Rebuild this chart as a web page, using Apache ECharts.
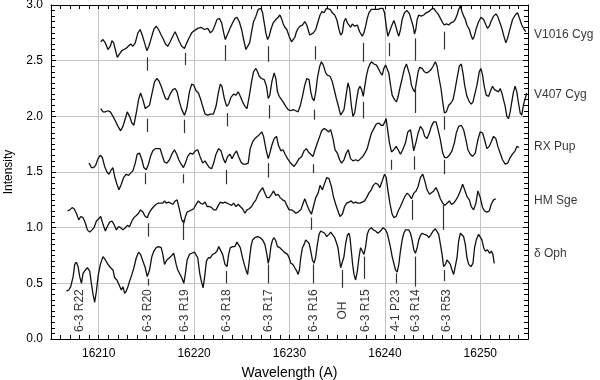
<!DOCTYPE html>
<html>
<head>
<meta charset="utf-8">
<script src="https://cdn.jsdelivr.net/npm/echarts@6/dist/echarts.min.js"></script>
<style>
  html, body { margin: 0; padding: 0; background: #fff; }
  #chart { width: 600px; height: 380px; }
</style>
</head>
<body>
<div id="chart"></div>
<script>
// spectra: [wavelength (A), intensity]
const v1016Cyg = [[16210.21,2.67],[16210.45,2.69],[16210.69,2.66],[16210.97,2.60],[16211.22,2.63],[16211.39,2.68],[16211.57,2.66],[16211.74,2.60],[16211.95,2.53],[16212.19,2.56],[16212.44,2.59],[16212.65,2.60],[16212.86,2.61],[16213.06,2.62],[16213.34,2.65],[16213.59,2.63],[16213.83,2.66],[16214.11,2.75],[16214.35,2.78],[16214.56,2.73],[16214.81,2.66],[16215.05,2.59],[16215.26,2.63],[16215.50,2.70],[16215.78,2.78],[16216.03,2.81],[16216.27,2.78],[16216.55,2.73],[16216.79,2.69],[16217.00,2.65],[16217.25,2.63],[16217.49,2.67],[16217.77,2.72],[16218.01,2.76],[16218.22,2.72],[16218.46,2.67],[16218.71,2.63],[16218.99,2.61],[16219.23,2.66],[16219.51,2.71],[16219.75,2.75],[16220.03,2.77],[16220.38,2.79],[16220.73,2.80],[16221.08,2.78],[16221.43,2.79],[16221.71,2.75],[16221.95,2.77],[16222.19,2.82],[16222.40,2.87],[16222.65,2.88],[16222.89,2.84],[16223.10,2.75],[16223.27,2.69],[16223.52,2.74],[16223.76,2.79],[16224.04,2.84],[16224.28,2.88],[16224.49,2.89],[16224.74,2.85],[16224.98,2.78],[16225.19,2.69],[16225.43,2.60],[16225.61,2.59],[16225.82,2.66],[16226.03,2.76],[16226.23,2.85],[16226.48,2.90],[16226.72,2.96],[16227.00,2.97],[16227.18,2.93],[16227.35,2.84],[16227.52,2.75],[16227.70,2.69],[16227.87,2.72],[16228.05,2.78],[16228.29,2.84],[16228.57,2.87],[16228.81,2.89],[16228.99,2.91],[16229.16,2.88],[16229.34,2.83],[16229.51,2.80],[16229.72,2.78],[16229.96,2.72],[16230.21,2.67],[16230.38,2.66],[16230.56,2.71],[16230.73,2.76],[16230.90,2.79],[16231.11,2.81],[16231.36,2.82],[16231.60,2.85],[16231.81,2.82],[16231.95,2.78],[16232.12,2.73],[16232.30,2.72],[16232.51,2.75],[16232.75,2.78],[16232.99,2.85],[16233.20,2.91],[16233.41,2.94],[16233.62,2.93],[16233.87,2.97],[16234.04,2.98],[16234.25,2.96],[16234.49,2.93],[16234.74,2.91],[16234.95,2.87],[16235.19,2.78],[16235.36,2.73],[16235.54,2.75],[16235.71,2.85],[16235.89,2.88],[16236.06,2.84],[16236.24,2.82],[16236.41,2.80],[16236.58,2.83],[16236.83,2.81],[16237.11,2.82],[16237.35,2.76],[16237.63,2.72],[16237.80,2.75],[16237.98,2.81],[16238.15,2.88],[16238.33,2.93],[16238.57,2.96],[16238.85,2.96],[16239.02,2.97],[16239.27,2.96],[16239.55,2.97],[16239.79,2.97],[16239.96,2.93],[16240.14,2.81],[16240.31,2.72],[16240.49,2.76],[16240.69,2.81],[16240.94,2.86],[16241.11,2.82],[16241.29,2.76],[16241.46,2.72],[16241.64,2.78],[16241.81,2.87],[16242.05,2.93],[16242.33,2.95],[16242.58,2.92],[16242.75,2.87],[16242.96,2.81],[16243.10,2.74],[16243.24,2.78],[16243.38,2.87],[16243.55,2.91],[16243.80,2.90],[16244.07,2.91],[16244.32,2.93],[16244.60,2.94],[16244.84,2.96],[16245.12,2.97],[16245.36,2.94],[16245.57,2.92],[16245.82,2.88],[16246.06,2.84],[16246.24,2.82],[16246.45,2.83],[16246.69,2.82],[16246.93,2.84],[16247.21,2.85],[16247.38,2.87],[16247.56,2.91],[16247.73,2.96],[16247.91,2.99],[16248.08,2.94],[16248.26,2.90],[16248.43,2.87],[16248.60,2.82],[16248.85,2.78],[16249.02,2.73],[16249.20,2.69],[16249.37,2.72],[16249.58,2.79],[16249.82,2.85],[16250.07,2.89],[16250.35,2.87],[16250.59,2.82],[16250.76,2.79],[16250.94,2.81],[16251.11,2.85],[16251.39,2.90],[16251.64,2.92],[16251.81,2.90],[16252.02,2.85],[16252.26,2.79],[16252.44,2.73],[16252.68,2.66],[16252.85,2.70],[16253.13,2.79],[16253.38,2.87],[16253.66,2.91],[16253.90,2.93],[16254.11,2.88],[16254.35,2.82],[16254.60,2.78],[16254.77,2.76]];

const v407Cyg = [[16210.21,2.07],[16210.45,2.04],[16210.69,2.04],[16210.97,2.05],[16211.22,2.04],[16211.50,2.00],[16211.74,1.96],[16212.02,1.91],[16212.30,1.87],[16212.54,1.91],[16212.79,1.98],[16212.99,2.04],[16213.24,2.00],[16213.48,1.94],[16213.69,1.92],[16213.94,2.03],[16214.18,2.15],[16214.39,2.21],[16214.63,2.15],[16214.88,2.07],[16215.08,2.06],[16215.33,2.10],[16215.57,2.20],[16215.85,2.31],[16216.10,2.34],[16216.30,2.32],[16216.55,2.27],[16216.79,2.21],[16217.00,2.16],[16217.24,2.15],[16217.49,2.20],[16217.77,2.24],[16218.01,2.25],[16218.22,2.22],[16218.46,2.13],[16218.71,2.06],[16218.99,2.01],[16219.23,2.07],[16219.51,2.22],[16219.75,2.29],[16219.96,2.28],[16220.21,2.23],[16220.45,2.21],[16220.66,2.16],[16220.90,2.09],[16221.15,2.02],[16221.43,2.01],[16221.70,2.02],[16222.02,2.02],[16222.30,2.09],[16222.54,2.21],[16222.75,2.29],[16222.92,2.27],[16223.17,2.16],[16223.41,2.09],[16223.62,2.11],[16223.86,2.17],[16224.14,2.20],[16224.39,2.19],[16224.63,2.22],[16224.84,2.18],[16225.08,2.13],[16225.33,2.09],[16225.54,2.07],[16225.78,2.18],[16226.02,2.31],[16226.23,2.40],[16226.48,2.43],[16226.65,2.40],[16226.83,2.36],[16227.07,2.34],[16227.35,2.33],[16227.59,2.27],[16227.77,2.16],[16227.94,2.19],[16228.15,2.31],[16228.39,2.39],[16228.57,2.34],[16228.74,2.22],[16228.92,2.18],[16229.09,2.16],[16229.33,2.13],[16229.61,2.09],[16229.86,2.06],[16230.14,2.05],[16230.38,2.06],[16230.66,2.05],[16230.90,2.04],[16231.11,2.09],[16231.36,2.18],[16231.60,2.28],[16231.81,2.34],[16232.05,2.33],[16232.23,2.22],[16232.40,2.16],[16232.58,2.14],[16232.75,2.22],[16232.92,2.34],[16233.17,2.45],[16233.34,2.49],[16233.55,2.46],[16233.79,2.39],[16233.97,2.37],[16234.25,2.36],[16234.49,2.31],[16234.66,2.25],[16234.91,2.16],[16235.19,2.07],[16235.36,2.01],[16235.54,2.00],[16235.71,2.06],[16235.95,2.20],[16236.13,2.30],[16236.30,2.25],[16236.48,2.10],[16236.65,2.00],[16236.83,2.03],[16237.00,2.13],[16237.21,2.24],[16237.38,2.27],[16237.56,2.24],[16237.73,2.18],[16237.91,2.28],[16238.08,2.37],[16238.25,2.43],[16238.43,2.47],[16238.60,2.49],[16238.85,2.47],[16239.12,2.46],[16239.37,2.42],[16239.54,2.39],[16239.72,2.37],[16239.89,2.43],[16240.07,2.46],[16240.24,2.45],[16240.41,2.39],[16240.59,2.28],[16240.76,2.19],[16241.01,2.15],[16241.22,2.13],[16241.39,2.18],[16241.56,2.25],[16241.81,2.34],[16242.05,2.43],[16242.26,2.47],[16242.43,2.46],[16242.61,2.37],[16242.78,2.28],[16242.96,2.24],[16243.13,2.22],[16243.31,2.31],[16243.48,2.40],[16243.65,2.44],[16243.90,2.43],[16244.14,2.40],[16244.35,2.39],[16244.59,2.40],[16244.84,2.42],[16245.05,2.45],[16245.29,2.49],[16245.47,2.45],[16245.64,2.36],[16245.88,2.25],[16246.06,2.13],[16246.23,2.03],[16246.44,2.04],[16246.69,2.10],[16246.93,2.12],[16247.14,2.15],[16247.31,2.22],[16247.56,2.34],[16247.80,2.45],[16248.01,2.47],[16248.18,2.39],[16248.36,2.28],[16248.60,2.18],[16248.85,2.13],[16249.05,2.11],[16249.23,2.13],[16249.40,2.19],[16249.65,2.28],[16249.89,2.40],[16250.06,2.43],[16250.24,2.37],[16250.41,2.27],[16250.62,2.19],[16250.87,2.18],[16251.04,2.22],[16251.28,2.27],[16251.49,2.24],[16251.67,2.25],[16251.91,2.22],[16252.08,2.25],[16252.26,2.21],[16252.43,2.15],[16252.61,2.09],[16252.78,2.00],[16252.96,1.98],[16253.13,2.04],[16253.30,2.13],[16253.48,2.22],[16253.65,2.27],[16253.83,2.22],[16254.00,2.12],[16254.18,2.03],[16254.35,2.01],[16254.52,2.10],[16254.70,2.16],[16254.87,2.21]];

const rxPup = [[16208.99,1.58],[16209.23,1.54],[16209.47,1.54],[16209.68,1.56],[16209.93,1.62],[16210.17,1.65],[16210.38,1.63],[16210.62,1.55],[16210.87,1.50],[16211.08,1.48],[16211.32,1.52],[16211.49,1.54],[16211.67,1.46],[16211.91,1.39],[16212.12,1.34],[16212.37,1.39],[16212.61,1.45],[16212.89,1.48],[16213.13,1.47],[16213.34,1.49],[16213.58,1.51],[16213.83,1.58],[16214.04,1.66],[16214.28,1.67],[16214.53,1.61],[16214.73,1.54],[16214.98,1.52],[16215.22,1.57],[16215.43,1.64],[16215.67,1.69],[16215.92,1.71],[16216.20,1.71],[16216.44,1.71],[16216.65,1.65],[16216.89,1.59],[16217.14,1.58],[16217.42,1.61],[16217.66,1.66],[16217.94,1.70],[16218.18,1.66],[16218.39,1.61],[16218.64,1.57],[16218.88,1.54],[16219.09,1.58],[16219.33,1.64],[16219.58,1.67],[16219.86,1.66],[16220.13,1.69],[16220.38,1.70],[16220.62,1.64],[16220.90,1.58],[16221.14,1.60],[16221.35,1.57],[16221.60,1.54],[16221.84,1.53],[16222.05,1.58],[16222.29,1.66],[16222.57,1.71],[16222.82,1.69],[16223.06,1.62],[16223.27,1.58],[16223.51,1.64],[16223.76,1.66],[16223.97,1.62],[16224.21,1.66],[16224.45,1.69],[16224.66,1.64],[16224.91,1.59],[16225.15,1.57],[16225.43,1.57],[16225.67,1.58],[16225.88,1.71],[16226.13,1.77],[16226.37,1.80],[16226.65,1.82],[16226.89,1.84],[16227.10,1.86],[16227.28,1.82],[16227.52,1.71],[16227.77,1.62],[16227.94,1.67],[16228.15,1.74],[16228.39,1.80],[16228.64,1.82],[16228.84,1.74],[16229.09,1.69],[16229.33,1.70],[16229.54,1.66],[16229.79,1.62],[16230.03,1.59],[16230.24,1.57],[16230.48,1.55],[16230.73,1.58],[16231.00,1.62],[16231.28,1.64],[16231.53,1.69],[16231.77,1.71],[16231.98,1.68],[16232.22,1.66],[16232.47,1.64],[16232.68,1.70],[16232.92,1.76],[16233.17,1.82],[16233.37,1.87],[16233.62,1.89],[16233.86,1.88],[16234.07,1.86],[16234.31,1.88],[16234.56,1.80],[16234.77,1.70],[16235.01,1.67],[16235.25,1.61],[16235.46,1.58],[16235.71,1.61],[16235.95,1.67],[16236.16,1.70],[16236.40,1.62],[16236.65,1.60],[16236.93,1.61],[16237.21,1.60],[16237.45,1.62],[16237.69,1.64],[16237.90,1.67],[16238.15,1.71],[16238.39,1.79],[16238.60,1.85],[16238.84,1.89],[16239.09,1.93],[16239.37,1.94],[16239.61,1.92],[16239.82,1.92],[16239.99,1.95],[16240.13,1.98],[16240.27,1.89],[16240.48,1.76],[16240.69,1.68],[16240.93,1.70],[16241.18,1.73],[16241.39,1.70],[16241.63,1.66],[16241.87,1.70],[16242.15,1.76],[16242.40,1.86],[16242.68,1.88],[16242.85,1.79],[16243.02,1.69],[16243.27,1.77],[16243.48,1.85],[16243.72,1.91],[16243.97,1.88],[16244.17,1.82],[16244.42,1.80],[16244.66,1.85],[16244.87,1.91],[16245.11,1.95],[16245.36,1.95],[16245.57,1.88],[16245.81,1.79],[16246.06,1.67],[16246.26,1.63],[16246.51,1.63],[16246.75,1.65],[16247.03,1.69],[16247.28,1.76],[16247.48,1.85],[16247.73,1.91],[16248.01,1.92],[16248.25,1.88],[16248.49,1.79],[16248.70,1.70],[16248.95,1.66],[16249.19,1.64],[16249.47,1.67],[16249.75,1.79],[16249.99,1.86],[16250.24,1.85],[16250.45,1.79],[16250.69,1.71],[16250.93,1.73],[16251.14,1.77],[16251.39,1.82],[16251.63,1.80],[16251.84,1.73],[16252.08,1.67],[16252.33,1.61],[16252.61,1.57],[16252.88,1.58],[16253.13,1.63],[16253.37,1.66],[16253.65,1.69],[16253.83,1.73],[16254.07,1.72]];

const hmSge = [[16206.72,1.15],[16206.97,1.16],[16207.21,1.18],[16207.42,1.17],[16207.66,1.13],[16207.91,1.07],[16208.12,1.10],[16208.36,1.09],[16208.61,1.04],[16208.81,0.98],[16209.06,0.96],[16209.30,0.98],[16209.51,1.00],[16209.76,1.06],[16210.00,1.08],[16210.21,1.10],[16210.45,1.03],[16210.70,0.97],[16210.90,1.01],[16211.15,1.05],[16211.39,1.06],[16211.60,1.03],[16211.85,0.98],[16212.09,1.01],[16212.30,1.00],[16212.54,0.98],[16212.79,1.00],[16213.00,1.02],[16213.24,1.01],[16213.48,1.06],[16213.69,1.09],[16213.94,1.11],[16214.18,1.13],[16214.39,1.16],[16214.63,1.14],[16214.88,1.10],[16215.09,1.09],[16215.33,1.14],[16215.57,1.17],[16215.78,1.19],[16216.03,1.21],[16216.27,1.22],[16216.48,1.22],[16216.72,1.22],[16216.90,1.24],[16217.07,1.22],[16217.32,1.23],[16217.52,1.24],[16217.77,1.21],[16218.01,1.24],[16218.22,1.25],[16218.47,1.16],[16218.71,1.07],[16218.92,1.04],[16219.09,1.10],[16219.27,1.14],[16219.51,1.15],[16219.75,1.16],[16219.96,1.17],[16220.21,1.21],[16220.45,1.24],[16220.66,1.22],[16220.90,1.21],[16221.15,1.23],[16221.36,1.19],[16221.60,1.19],[16221.84,1.18],[16222.05,1.16],[16222.30,1.16],[16222.54,1.20],[16222.75,1.23],[16222.99,1.22],[16223.24,1.23],[16223.45,1.22],[16223.69,1.21],[16223.93,1.20],[16224.14,1.22],[16224.39,1.19],[16224.63,1.21],[16224.84,1.19],[16225.08,1.17],[16225.33,1.13],[16225.54,1.16],[16225.78,1.17],[16226.03,1.19],[16226.23,1.22],[16226.48,1.25],[16226.72,1.30],[16226.93,1.33],[16227.18,1.36],[16227.42,1.31],[16227.63,1.27],[16227.87,1.27],[16228.12,1.30],[16228.33,1.33],[16228.57,1.29],[16228.81,1.30],[16229.02,1.27],[16229.27,1.25],[16229.51,1.24],[16229.72,1.20],[16229.96,1.16],[16230.21,1.16],[16230.42,1.15],[16230.66,1.13],[16230.90,1.14],[16231.18,1.16],[16231.43,1.22],[16231.60,1.26],[16231.81,1.21],[16232.05,1.16],[16232.30,1.12],[16232.51,1.19],[16232.75,1.27],[16233.00,1.31],[16233.20,1.38],[16233.45,1.34],[16233.69,1.40],[16233.90,1.45],[16234.14,1.44],[16234.39,1.37],[16234.60,1.28],[16234.84,1.21],[16235.08,1.15],[16235.29,1.10],[16235.54,1.12],[16235.78,1.19],[16235.99,1.22],[16236.23,1.23],[16236.48,1.24],[16236.69,1.22],[16236.93,1.23],[16237.17,1.22],[16237.38,1.22],[16237.63,1.23],[16237.87,1.24],[16238.08,1.27],[16238.32,1.31],[16238.57,1.34],[16238.78,1.38],[16239.02,1.40],[16239.26,1.39],[16239.47,1.36],[16239.72,1.42],[16239.96,1.48],[16240.14,1.45],[16240.31,1.34],[16240.52,1.22],[16240.76,1.12],[16240.94,1.09],[16241.18,1.10],[16241.39,1.15],[16241.63,1.19],[16241.88,1.24],[16242.09,1.28],[16242.33,1.31],[16242.57,1.29],[16242.78,1.26],[16243.03,1.31],[16243.27,1.33],[16243.48,1.37],[16243.72,1.45],[16243.97,1.48],[16244.18,1.42],[16244.42,1.34],[16244.67,1.30],[16244.87,1.31],[16245.12,1.33],[16245.36,1.36],[16245.57,1.32],[16245.81,1.26],[16246.06,1.22],[16246.27,1.20],[16246.51,1.22],[16246.76,1.24],[16246.96,1.21],[16247.21,1.22],[16247.45,1.25],[16247.66,1.28],[16247.90,1.33],[16248.15,1.39],[16248.36,1.34],[16248.60,1.28],[16248.85,1.25],[16249.05,1.19],[16249.30,1.16],[16249.54,1.22],[16249.75,1.33],[16250.00,1.27],[16250.24,1.18],[16250.45,1.15],[16250.69,1.14],[16250.94,1.15],[16251.15,1.21],[16251.39,1.25],[16251.63,1.26]];

const deltaOph = [[16206.62,0.43],[16206.86,0.44],[16207.07,0.47],[16207.32,0.56],[16207.49,0.67],[16207.66,0.69],[16207.84,0.65],[16208.01,0.56],[16208.19,0.50],[16208.36,0.59],[16208.61,0.62],[16208.81,0.64],[16209.06,0.61],[16209.23,0.50],[16209.41,0.40],[16209.58,0.33],[16209.76,0.43],[16209.93,0.56],[16210.17,0.67],[16210.45,0.74],[16210.70,0.71],[16210.97,0.67],[16211.25,0.64],[16211.50,0.62],[16211.67,0.55],[16211.91,0.53],[16212.12,0.49],[16212.37,0.44],[16212.54,0.47],[16212.72,0.41],[16212.89,0.43],[16213.06,0.47],[16213.24,0.52],[16213.48,0.58],[16213.69,0.64],[16213.94,0.73],[16214.18,0.78],[16214.39,0.76],[16214.63,0.70],[16214.88,0.64],[16215.09,0.56],[16215.33,0.62],[16215.57,0.74],[16215.78,0.79],[16216.03,0.82],[16216.27,0.83],[16216.55,0.82],[16216.72,0.76],[16216.90,0.67],[16217.14,0.71],[16217.42,0.73],[16217.66,0.75],[16217.87,0.77],[16218.12,0.67],[16218.29,0.62],[16218.47,0.59],[16218.71,0.55],[16218.92,0.50],[16219.09,0.59],[16219.27,0.71],[16219.51,0.76],[16219.75,0.77],[16220.03,0.78],[16220.21,0.79],[16220.38,0.73],[16220.59,0.59],[16220.76,0.52],[16220.94,0.46],[16221.11,0.56],[16221.29,0.70],[16221.50,0.73],[16221.71,0.73],[16221.95,0.76],[16222.19,0.77],[16222.40,0.79],[16222.58,0.83],[16222.75,0.84],[16222.99,0.76],[16223.24,0.67],[16223.45,0.65],[16223.62,0.76],[16223.80,0.82],[16224.04,0.83],[16224.28,0.83],[16224.49,0.87],[16224.67,0.86],[16224.84,0.82],[16225.05,0.74],[16225.26,0.67],[16225.47,0.61],[16225.61,0.58],[16225.78,0.70],[16225.96,0.83],[16226.13,0.89],[16226.37,0.91],[16226.65,0.92],[16226.93,0.91],[16227.18,0.89],[16227.42,0.85],[16227.63,0.76],[16227.77,0.68],[16227.91,0.73],[16228.05,0.83],[16228.22,0.89],[16228.39,0.91],[16228.57,0.88],[16228.74,0.83],[16228.99,0.82],[16229.23,0.80],[16229.44,0.78],[16229.61,0.77],[16229.79,0.76],[16229.96,0.73],[16230.14,0.68],[16230.35,0.67],[16230.55,0.64],[16230.76,0.61],[16230.90,0.58],[16231.04,0.62],[16231.18,0.73],[16231.36,0.82],[16231.53,0.85],[16231.70,0.89],[16231.88,0.89],[16232.05,0.86],[16232.23,0.79],[16232.40,0.71],[16232.58,0.68],[16232.75,0.74],[16232.92,0.85],[16233.10,0.94],[16233.27,0.97],[16233.45,0.97],[16233.69,0.95],[16233.90,0.92],[16234.14,0.94],[16234.32,0.96],[16234.49,0.94],[16234.74,0.91],[16234.94,0.86],[16235.08,0.82],[16235.22,0.73],[16235.36,0.64],[16235.54,0.65],[16235.71,0.74],[16235.89,0.86],[16236.06,0.93],[16236.23,0.95],[16236.34,0.91],[16236.48,0.79],[16236.62,0.67],[16236.76,0.58],[16236.93,0.53],[16237.11,0.61],[16237.28,0.73],[16237.45,0.82],[16237.63,0.79],[16237.80,0.76],[16237.98,0.83],[16238.15,0.94],[16238.32,0.98],[16238.57,1.00],[16238.78,0.98],[16239.02,0.97],[16239.26,0.95],[16239.54,0.97],[16239.82,1.00],[16240.07,0.98],[16240.24,0.95],[16240.41,0.89],[16240.59,0.82],[16240.76,0.74],[16240.94,0.68],[16241.11,0.62],[16241.29,0.60],[16241.46,0.67],[16241.63,0.79],[16241.81,0.89],[16241.98,0.95],[16242.16,0.98],[16242.33,0.98],[16242.50,0.98],[16242.68,0.95],[16242.85,0.89],[16243.03,0.80],[16243.20,0.77],[16243.38,0.82],[16243.55,0.89],[16243.72,0.93],[16243.90,0.95],[16244.14,0.94],[16244.42,0.93],[16244.60,0.91],[16244.84,0.94],[16245.05,0.97],[16245.29,0.99],[16245.47,0.98],[16245.64,0.94],[16245.82,0.85],[16245.99,0.76],[16246.16,0.65],[16246.34,0.67],[16246.51,0.71],[16246.69,0.71],[16246.86,0.67],[16247.03,0.62],[16247.21,0.58],[16247.38,0.59],[16247.56,0.73],[16247.73,0.88],[16247.91,0.95],[16248.08,0.95],[16248.25,0.92],[16248.43,0.85],[16248.60,0.73],[16248.78,0.67],[16249.02,0.65],[16249.23,0.68],[16249.40,0.82],[16249.58,0.89],[16249.82,0.94],[16250.00,0.94],[16250.17,0.89],[16250.35,0.82],[16250.52,0.79],[16250.76,0.80],[16250.97,0.77],[16251.15,0.79],[16251.32,0.76],[16251.46,0.68]];

// line-identification ticks under each spectrum: [wavelength, top, bottom]
const v1016Marks = [[16215.05,2.53,2.41],[16219.06,2.57,2.46],[16223.27,2.64,2.50],[16227.80,2.63,2.49],[16232.65,2.63,2.51],[16237.73,2.66,2.49],[16240.49,2.66,2.54],[16243.20,2.70,2.50],[16246.19,2.76,2.60]];
const v407Marks = [[16215.09,1.98,1.86],[16218.99,1.97,1.85],[16223.45,2.03,1.91],[16227.87,2.10,1.98],[16232.57,2.06,1.97],[16237.73,2.13,1.98],[16243.20,2.26,2.03],[16246.27,2.00,1.88]];
const rxPupMarks = [[16214.91,1.49,1.39],[16218.91,1.48,1.40],[16223.34,1.52,1.39],[16227.80,1.58,1.45],[16232.47,1.57,1.49],[16240.70,1.61,1.52],[16243.03,1.64,1.52],[16246.24,1.61,1.48]];
const hmSgeMarks = [[16215.15,1.04,0.92],[16218.91,1.07,0.89],[16232.33,1.09,0.98],[16242.89,1.25,1.07],[16246.16,1.22,0.98]];
const deltaOphMarks = [[16215.15,0.54,0.48],[16223.34,0.61,0.50],[16227.80,0.67,0.50],[16232.50,0.67,0.50],[16235.53,0.62,0.46],[16237.80,0.74,0.54],[16241.22,0.59,0.50],[16243.18,0.74,0.47],[16246.27,0.62,0.52]];

// transition labels along the bottom
const lineNames = ['6-3 R22','6-3 R20','6-3 R19','6-3 R18','6-3 R17','6-3 R16','OH','6-3 R15','4-1 P23','6-3 R14','6-3 R53'];
const lineWaves = [16208.01,16215.15,16218.99,16223.41,16227.87,16232.57,16235.53,16237.98,16241.18,16243.27,16246.51];
const lineLabelY = 0.255;

// star names on the right
const starNames = ['V1016 Cyg','V407 Cyg','RX Pup','HM Sge','δ Oph'];
const starLabelY = [2.73,2.19,1.73,1.24,0.77];

const xTicks = [16210,16220,16230,16240,16250];
const yTicks = [0.0,0.5,1.0,1.5,2.0,2.5,3.0];

const FONT = "'Liberation Sans', Arial, sans-serif";
const X_MIN = 16205, X_MAX = 16255;

const markLineOf=(marks)=>{
    return {
        silent: true,
        symbol: ['none','none'],
        label: {show: false},
        lineStyle: {color: '#333', width: 1.2, type: 'solid'},
        data: marks.map(m => [{coord: [m[0], m[1]]}, {coord: [m[0], m[2]]}])
    };
};

const spectrum=(name, data, marks)=>{
    return {
        name: name,
        type: 'line',
        data: data,
        showSymbol: false,
        symbol: 'none',
        lineStyle: {color: '#111', width: 1.3},
        markLine: markLineOf(marks),
        z: 3
    };
};

// plain frame axis: black line, small inward ticks, no labels
const frameAxis=(extra)=>Object.assign({
    type: 'value',
    axisLine: {show: true, onZero: false, lineStyle: {color: '#000', width: 1}},
    axisTick: {show: true, inside: true, length: 4, lineStyle: {color: '#000'}},
    axisLabel: {show: false},
    splitLine: {show: false}
}, extra);

const getOption=()=>{
    return {
        animation: false,
        textStyle: {fontFamily: FONT},
        grid: {left: 51, right: 72, top: 5, bottom: 41, containLabel: false, outerBoundsMode: 'none'},
        xAxis: [
            // labels, grid lines and title (ticks come from the 1 A axes below)
            frameAxis({
                position: 'bottom', min: X_MIN, max: X_MAX, splitNumber: 5,
                axisTick: {show: false},
                axisLabel: {show: true, color: '#000', fontSize: 12, fontFamily: FONT, margin: 9,
                    formatter: v => xTicks.includes(v) ? String(v) : ''},
                splitLine: {show: true, lineStyle: {color: '#c4c4c4', width: 1}},
                name: 'Wavelength (A)', nameLocation: 'middle', nameGap: 27,
                nameTextStyle: {fontSize: 14, color: '#000', fontFamily: FONT}
            }),
            frameAxis({position: 'bottom', min: X_MIN, max: X_MAX, interval: 1}),
            frameAxis({position: 'top', min: X_MIN, max: X_MAX, interval: 1})
        ],
        yAxis: [
            frameAxis({
                position: 'left', min: 0, max: 3, interval: 0.5,
                axisTick: {show: true, inside: true, length: 5, lineStyle: {color: '#000'}},
                minorTick: {show: true, splitNumber: 10, length: 4, lineStyle: {color: '#000'}},
                axisLabel: {show: true, color: '#000', fontSize: 12, fontFamily: FONT, margin: 8,
                    formatter: v => yTicks.includes(v) ? v.toFixed(1) : ''},
                splitLine: {show: true, lineStyle: {color: '#c4c4c4', width: 1}},
                name: 'Intensity', nameLocation: 'middle', nameGap: 36, nameRotate: 90,
                nameTextStyle: {fontSize: 12, color: '#000', fontFamily: FONT}
            }),
            frameAxis({
                position: 'right', min: 0, max: 3, interval: 0.5,
                axisTick: {show: true, inside: true, length: 5, lineStyle: {color: '#000'}},
                minorTick: {show: true, splitNumber: 10, length: 4, lineStyle: {color: '#000'}}
            })
        ],
        series: [
            spectrum('V1016 Cyg', v1016Cyg, v1016Marks),
            spectrum('V407 Cyg', v407Cyg, v407Marks),
            spectrum('RX Pup', rxPup, rxPupMarks),
            spectrum('HM Sge', hmSge, hmSgeMarks),
            spectrum('δ Oph', deltaOph, deltaOphMarks),
            {
                type: 'scatter',
                symbolSize: 0,
                silent: true,
                data: lineNames.map((n, i) => ({name: n, value: [lineWaves[i], lineLabelY]})),
                label: {
                    show: true, position: 'inside', rotate: 90,
                    formatter: p => p.name,
                    color: '#000', fontSize: 12, fontFamily: FONT
                }
            },
            {
                type: 'scatter',
                symbolSize: 0,
                silent: true,
                clip: false,
                data: starNames.map((n, i) => ({name: n, value: [X_MAX, starLabelY[i]]})),
                label: {
                    show: true, position: 'right', distance: 6,
                    formatter: p => p.name,
                    color: '#000', fontSize: 12, fontFamily: FONT
                }
            }
        ]
    };
};

const initChart=()=>{
    const chart=echarts.init(document.getElementById("chart"), null, {renderer: 'canvas'});
    chart.setOption(getOption());
};

window.addEventListener('load', ()=> {
    initChart();
});
</script>
</body>
</html>
